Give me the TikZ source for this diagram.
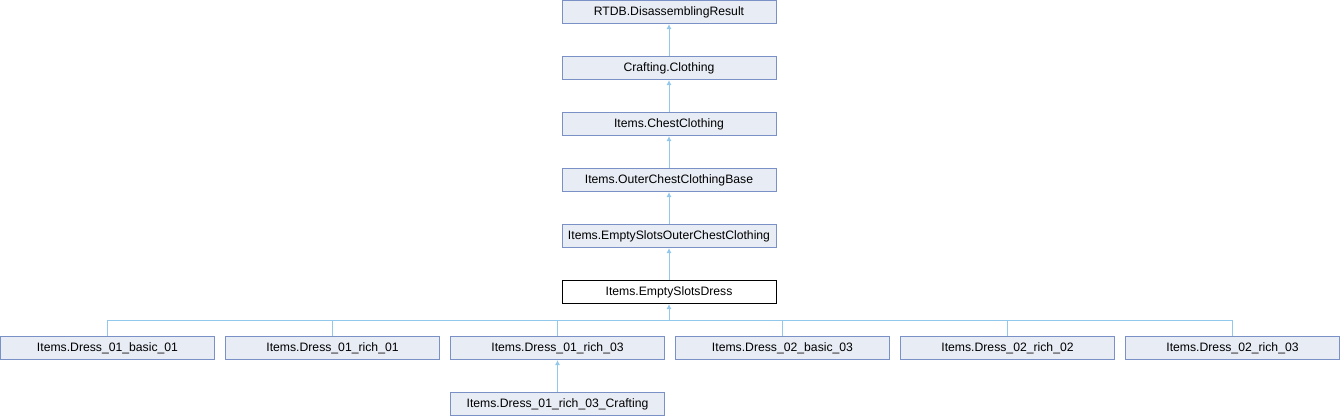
\documentclass[tikz,border=0pt]{standalone}
\usepackage{fontspec}
\setmainfont{Liberation Sans}
\usetikzlibrary{arrows.meta}
\definecolor{boxfill}{RGB}{232,236,245}
\definecolor{boxline}{RGB}{122,145,199}
\definecolor{edgecol}{RGB}{145,200,235}
\tikzset{
  cls/.style={draw=boxline, fill=boxfill, line width=1pt, minimum width=214pt, minimum height=23pt, inner sep=0pt, font=\fontsize{12.2pt}{14pt}\selectfont},
  curcls/.style={cls, draw=black, fill=white},
  inh/.style={draw=edgecol, line width=1pt, -{Latex[length=5pt,width=5pt]}},
  bus/.style={draw=edgecol, line width=1pt}
}
\begin{document}
\begin{tikzpicture}[x=1pt,y=-1pt]
\useasboundingbox (0,0) rectangle (1340,416);
\node[cls] (r1) at (669,12) {RTDB.DisassemblingResult};
\node[cls] (r2) at (669,68) {Crafting.Clothing};
\node[cls] (r3) at (669,124) {Items.ChestClothing};
\node[cls] (r4) at (669,180) {Items.OuterChestClothingBase};
\node[cls] (r5) at (669,236) {Items.EmptySlotsOuterChestClothing};
\node[curcls] (r6) at (669,292) {Items.EmptySlotsDress};
\node[cls] (c1) at (107.5,348) {Items.Dress\_01\_basic\_01};
\node[cls] (c2) at (332.5,348) {Items.Dress\_01\_rich\_01};
\node[cls] (c3) at (557.5,348) {Items.Dress\_01\_rich\_03};
\node[cls] (c4) at (782.5,348) {Items.Dress\_02\_basic\_03};
\node[cls] (c5) at (1007.5,348) {Items.Dress\_02\_rich\_02};
\node[cls] (c6) at (1232.5,348) {Items.Dress\_02\_rich\_03};
\node[cls] (g1) at (557.5,404) {Items.Dress\_01\_rich\_03\_Crafting};
\coordinate (busmid) at (669,320);
\draw[inh] (r2) -- (r1);
\draw[inh] (r3) -- (r2);
\draw[inh] (r4) -- (r3);
\draw[inh] (r5) -- (r4);
\draw[inh] (r6) -- (r5);
\draw[inh] (busmid) -- (r6);
\draw[bus] (c1.north) |- (busmid);
\draw[bus] (c2.north) |- (busmid);
\draw[bus] (c3.north) |- (busmid);
\draw[bus] (c4.north) |- (busmid);
\draw[bus] (c5.north) |- (busmid);
\draw[bus] (c6.north) |- (busmid);
\draw[inh] (g1) -- (c3);
\end{tikzpicture}
\end{document}
